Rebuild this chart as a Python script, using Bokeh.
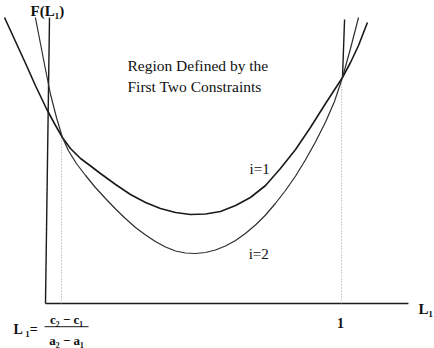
from bokeh.plotting import figure
from bokeh.models import Label, Range1d
from bokeh.embed import file_html
from bokeh.resources import INLINE

# ---- data (L1 on x, F(L1) on y) ----
L_i1 = [-0.138, -0.101, -0.067, -0.034, 0.003, 0.030, 0.057, 0.084, 0.118, 0.152,
        0.185, 0.236, 0.286, 0.337, 0.387, 0.438, 0.488, 0.539, 0.589, 0.640,
        0.690, 0.741, 0.791, 0.842, 0.892, 0.943, 1.0, 1.027, 1.054, 1.084]
F_i1 = [2.86, 2.62, 2.40, 2.18, 1.95, 1.80, 1.66, 1.55, 1.45, 1.375,
        1.30, 1.19, 1.09, 1.01, 0.95, 0.91, 0.89, 0.895, 0.92, 0.98,
        1.06, 1.18, 1.35, 1.54, 1.76, 2.00, 2.26, 2.41, 2.58, 2.81]

L_i2 = [-0.034, -0.017, 0.0, 0.017, 0.037, 0.057, 0.077, 0.104, 0.135, 0.168,
        0.202, 0.236, 0.269, 0.303, 0.337, 0.370, 0.404, 0.438, 0.471, 0.505,
        0.539, 0.572, 0.606, 0.640, 0.673, 0.707, 0.741, 0.774, 0.808, 0.842,
        0.875, 0.909, 0.943, 0.973, 1.0, 1.027, 1.054]
F_i2 = [2.86, 2.60, 2.34, 2.09, 1.86, 1.66, 1.53, 1.40, 1.28, 1.16,
        1.05, 0.945, 0.85, 0.76, 0.685, 0.62, 0.565, 0.525, 0.505, 0.50,
        0.51, 0.535, 0.575, 0.63, 0.70, 0.785, 0.885, 1.00, 1.13, 1.275,
        1.435, 1.615, 1.815, 2.02, 2.26, 2.55, 2.86]

# steep bounding lines
L_left = [0.0, 0.0135]
F_left = [0.0, 2.86]
L_right = [1.0, 1.007]
F_right = [2.26, 2.84]

# intersection points (for dotted drop lines)
L_cross = [0.054, 0.997]
F_cross = [1.66, 2.26]

L_axis_end = 1.222

p = figure(width=434, height=348, output_backend="svg", toolbar_location=None,
           x_range=Range1d(-0.1515, 1.3098), y_range=Range1d(-0.45, 3.03),
           min_border=0, x_axis_type=None, y_axis_type=None)
p.outline_line_color = None
p.xgrid.visible = False
p.ygrid.visible = False
p.background_fill_color = "white"

ink = "#1a1a1a"

# x-axis
p.line([0, L_axis_end], [0, 0], line_color=ink, line_width=1.6)
# y-axis / left steep line
p.line(L_left, F_left, line_color=ink, line_width=1.4)
p.line(L_right, F_right, line_color=ink, line_width=1.4)

# dotted drop lines
for lx, fy in zip(L_cross, F_cross):
    p.line([lx, lx], [0, fy], line_color="#9a9a9a", line_width=1, line_dash="1 2")

# curves
p.line(L_i1, F_i1, line_color=ink, line_width=1.6)
p.line(L_i2, F_i2, line_color="#2e2e2e", line_width=1.2)

serif = "Liberation Serif"

def lab(x, y, t, size="15px", style="normal", align="left"):
    p.add_layout(Label(x=x, y=y, text=t, text_font=serif, text_font_size=size,
                       text_font_style=style, text_align=align,
                       text_baseline="alphabetic", text_color="#111111"))

lab(0.276, 2.38, "Region Defined by the", "15.5px")
lab(0.276, 2.17, "First Two Constraints", "15.5px")
lab(0.687, 1.35, "i=1", "15px")
lab(0.684, 0.50, "i=2", "15px")
lab(0.993, -0.19, "1", "14px", "bold", "center")
lab(1.256, -0.05, "L\u2081", "15px", "bold")
lab(-0.0505, 2.93, "F(L\u2081)", "15px", "bold")
lab(-0.108, -0.26, "L \u2081=", "14px", "bold")
lab(0.071, -0.155, "c\u2082 \u2212 c\u2081", "13px", "bold", "center")
lab(0.071, -0.37, "a\u2082 \u2212 a\u2081", "13px", "bold", "center")
p.line([-0.003, 0.145], [-0.232, -0.232], line_color=ink, line_width=1)

open("out.html", "w").write(file_html(p, INLINE))
